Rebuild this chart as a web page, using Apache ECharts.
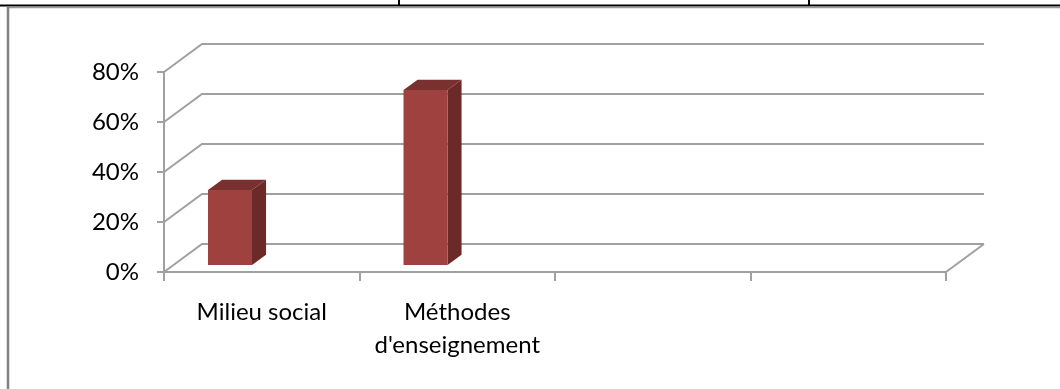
<!DOCTYPE html>
<html>
<head>
<meta charset="utf-8">
<style>
  html, body { margin: 0; padding: 0; background: #ffffff; }
  #chart { width: 1060px; height: 389px; }
</style>
<script src="https://cdn.jsdelivr.net/npm/echarts@6/dist/echarts.min.js"></script>
</head>
<body>
<div id="chart"></div>
<script>
// Categories along the floor of the 3D column chart
const categories = ['Milieu social', "Méthodes\nd'enseignement", '', ''];
// Share of answers per category
const shares = [0.30, 0.70];
// Value-axis ticks (back wall gridlines)
const yTicks = [0, 0.2, 0.4, 0.6, 0.8];

// Depth of the 3D box (offset of the back wall from the front plane)
const DX = 38, DY = -28;
// Column placement inside the box
const BAR_FRONT = 0.25;   // depth of the column front face
const BAR_DEPTH = 0.37;   // depth of the column itself
const BAR_OFF = -0.3235;  // left edge relative to band centre (band widths)
const BAR_W = 0.225;      // column width (band widths)

const AXIS_GRAY = '#a0a0a0';
const FONT = 'Lato';

const chart = echarts.init(document.getElementById('chart'), null, { renderer: 'canvas' });

function renderWall(params, api) {
  const v = api.value(1);
  const cs = params.coordSys;
  const y = api.coord([0, v])[1];
  const x0 = cs.x, x1 = cs.x + cs.width;
  const style = { stroke: AXIS_GRAY, lineWidth: 2, fill: null };
  const children = [{
    type: 'polyline',
    shape: { points: [[x0, y], [x0 + DX, y + DY], [x1 + DX, y + DY]] },
    style: style,
    silent: true
  }];
  if (v === 0) {
    children.push({
      type: 'line',
      shape: { x1: x1, y1: y, x2: x1 + DX, y2: y + DY },
      style: style,
      silent: true
    });
  }
  return { type: 'group', children: children };
}

function renderColumn(params, api) {
  const i = api.value(0);
  const v = api.value(1);
  const base = api.coord([i, 0]);
  const top = api.coord([i, v]);
  const band = api.size([1, 0])[0];
  const sx = BAR_FRONT * DX, sy = BAR_FRONT * DY;
  const L = base[0] + sx + band * BAR_OFF;
  const R = L + band * BAR_W;
  const B = base[1] + sy;
  const T = top[1] + sy;
  const bx = BAR_DEPTH * DX, by = BAR_DEPTH * DY;
  return {
    type: 'group',
    children: [
      {
        type: 'polygon',
        shape: { points: [[R, T], [R + bx, T + by], [R + bx, B + by], [R, B]] },
        style: { fill: '#6b2927' }
      },
      {
        type: 'polygon',
        shape: { points: [[L, T], [R, T], [R + bx, T + by], [L + bx, T + by]] },
        style: { fill: '#7a302e' }
      },
      {
        type: 'rect',
        shape: { x: L, y: T, width: R - L, height: B - T },
        style: { fill: '#9e413f' }
      }
    ]
  };
}

const option = {
  animation: false,
  backgroundColor: '#ffffff',
  grid: { left: 164, right: 114, top: 72, bottom: 117 },
  xAxis: {
    type: 'category',
    data: categories,
    boundaryGap: true,
    axisLine: { show: true, lineStyle: { color: AXIS_GRAY, width: 2 } },
    axisTick: { show: true, interval: 0, alignWithLabel: false, length: 9, lineStyle: { color: AXIS_GRAY, width: 2 } },
    axisLabel: {
      interval: 0, margin: 24, color: '#000000', fontFamily: FONT, fontSize: 24, lineHeight: 33, align: 'center'
    },
    splitLine: { show: false }
  },
  yAxis: {
    type: 'value',
    min: 0, max: 0.8, interval: 0.2,
    axisLine: { show: true, lineStyle: { color: AXIS_GRAY, width: 2 } },
    axisTick: { show: true, length: 7, lineStyle: { color: AXIS_GRAY, width: 2 } },
    axisLabel: {
      margin: 25, color: '#000000', fontFamily: FONT, fontSize: 24,
      formatter: function (v) { return Math.round(v * 100) + '%'; }
    },
    splitLine: { show: false }
  },
  graphic: [
    { type: 'line', shape: { x1: 0, y1: 5.5, x2: 1060, y2: 5.5 }, style: { stroke: '#000000', lineWidth: 2 }, z: 100 },
    { type: 'line', shape: { x1: 399, y1: 0, x2: 399, y2: 6 }, style: { stroke: '#000000', lineWidth: 2 }, z: 100 },
    { type: 'line', shape: { x1: 809, y1: 0, x2: 809, y2: 6 }, style: { stroke: '#000000', lineWidth: 2 }, z: 100 },
    { type: 'line', shape: { x1: 8, y1: 7.5, x2: 1060, y2: 7.5 }, style: { stroke: '#9a9a9a', lineWidth: 1.5 }, z: 100 },
    { type: 'line', shape: { x1: 8, y1: 7, x2: 8, y2: 389 }, style: { stroke: '#808080', lineWidth: 2.5 }, z: 100 }
  ],
  series: [
    {
      name: 'wall',
      type: 'custom',
      renderItem: renderWall,
      data: yTicks.map(function (t) { return [0, t]; }),
      encode: { x: 0, y: 1 },
      silent: true,
      z: 1
    },
    {
      name: 'Part',
      type: 'custom',
      renderItem: renderColumn,
      data: shares.map(function (v, i) { return [i, v]; }),
      encode: { x: 0, y: 1 },
      z: 2
    }
  ]
};

chart.setOption(option);
</script>
</body>
</html>
